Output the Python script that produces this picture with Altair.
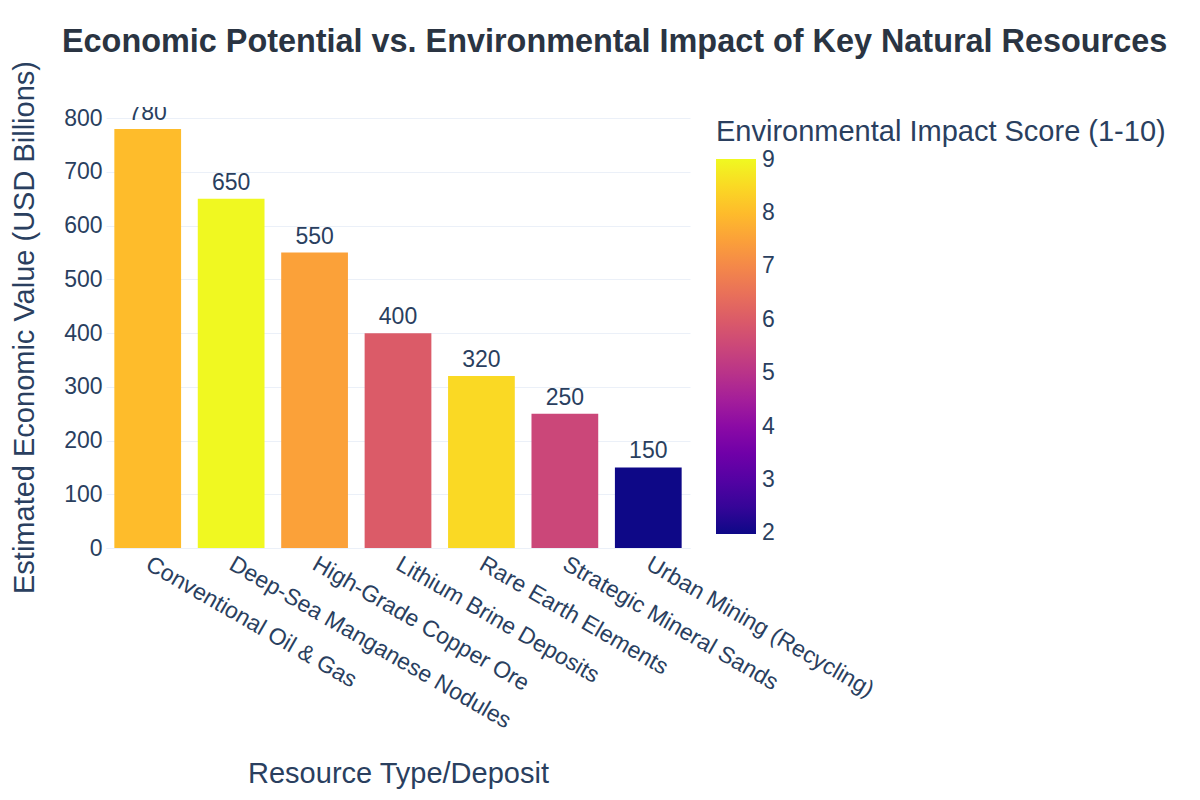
import altair as alt
import pandas as pd

resources = [
    "Conventional Oil & Gas",
    "Deep-Sea Manganese Nodules",
    "High-Grade Copper Ore",
    "Lithium Brine Deposits",
    "Rare Earth Elements",
    "Strategic Mineral Sands",
    "Urban Mining (Recycling)",
]
economic_value = [780, 650, 550, 400, 320, 250, 150]
impact_score = [8, 9, 7.5, 6, 8.5, 5.5, 2]

df = pd.DataFrame({
    "Resource": resources,
    "Value": economic_value,
    "Impact": impact_score,
})

FONT = "Liberation Sans"
TEXT = "#2a3f5f"

x_enc = alt.X(
    "Resource:N",
    sort=resources,
    scale=alt.Scale(paddingInner=0.2, paddingOuter=0.1),
    axis=alt.Axis(
        title="Resource Type/Deposit",
        labelAngle=30,
        labelAlign="left",
        labelBaseline="middle",
        labelFontSize=23,
        labelColor=TEXT,
        labelPadding=14,
        labelLimit=400,
        titleFontSize=29,
        titleFontWeight="normal",
        titleColor=TEXT,
        titleY=225,
        titleBaseline="middle",
        domainColor="#ebf0f8",
        domainWidth=1,
        ticks=False,
        grid=False,
    ),
)

y_enc = alt.Y(
    "Value:Q",
    scale=alt.Scale(domain=[0, 821], nice=False),
    axis=alt.Axis(
        title="Estimated Economic Value (USD Billions)",
        values=[0, 100, 200, 300, 400, 500, 600, 700, 800],
        labelFontSize=23,
        labelColor=TEXT,
        labelPadding=4,
        titleFontSize=29,
        titleFontWeight="normal",
        titleColor=TEXT,
        titleX=-82,
        titleY=220,
        titleBaseline="middle",
        titleAlign="center",
        domain=False,
        ticks=False,
        gridColor="#ebf0f8",
        gridWidth=1,
    ),
)

base = alt.Chart(df).encode(x=x_enc, y=y_enc)

# colour domain padded a hair past 2..9 so the end labels sit centred on the bar ends
bars = base.mark_bar().encode(
    color=alt.Color(
        "Impact:Q",
        scale=alt.Scale(scheme="plasma", domain=[1.99, 9.01]),
        legend=alt.Legend(
            title="Environmental Impact Score (1-10)",
            orient="none",
            legendX=610,
            legendY=11,
            direction="vertical",
            gradientLength=375,
            gradientThickness=40,
            values=[2, 3, 4, 5, 6, 7, 8, 9],
            labelFontSize=23,
            labelColor=TEXT,
            labelOffset=6,
            titleFontSize=29,
            titleFontWeight="normal",
            titleColor=TEXT,
            titleLimit=600,
            titlePadding=12,
        ),
    ),
)

labels = base.mark_text(
    baseline="bottom",
    dy=-4,
    fontSize=23,
    color=TEXT,
    font=FONT,
    clip=True,
).encode(text="Value:Q")

chart = (
    (bars + labels)
    .properties(
        width=584,
        height=441,
        autosize="none",
        padding={"left": 106, "top": 107, "right": 510, "bottom": 252},
        title=alt.TitleParams(
            "Economic Potential vs. Environmental Impact of Key Natural Resources",
            anchor="start",
            frame="group",
            dx=-44,
            offset=2,
            fontSize=32.4,
            fontWeight="bold",
            color="#2a3442",
            font=FONT,
        ),
    )
    .configure(font=FONT, background="white")
    .configure_view(stroke=None)
)

chart.save("out.html", embed_options={"renderer": "svg", "actions": False})
